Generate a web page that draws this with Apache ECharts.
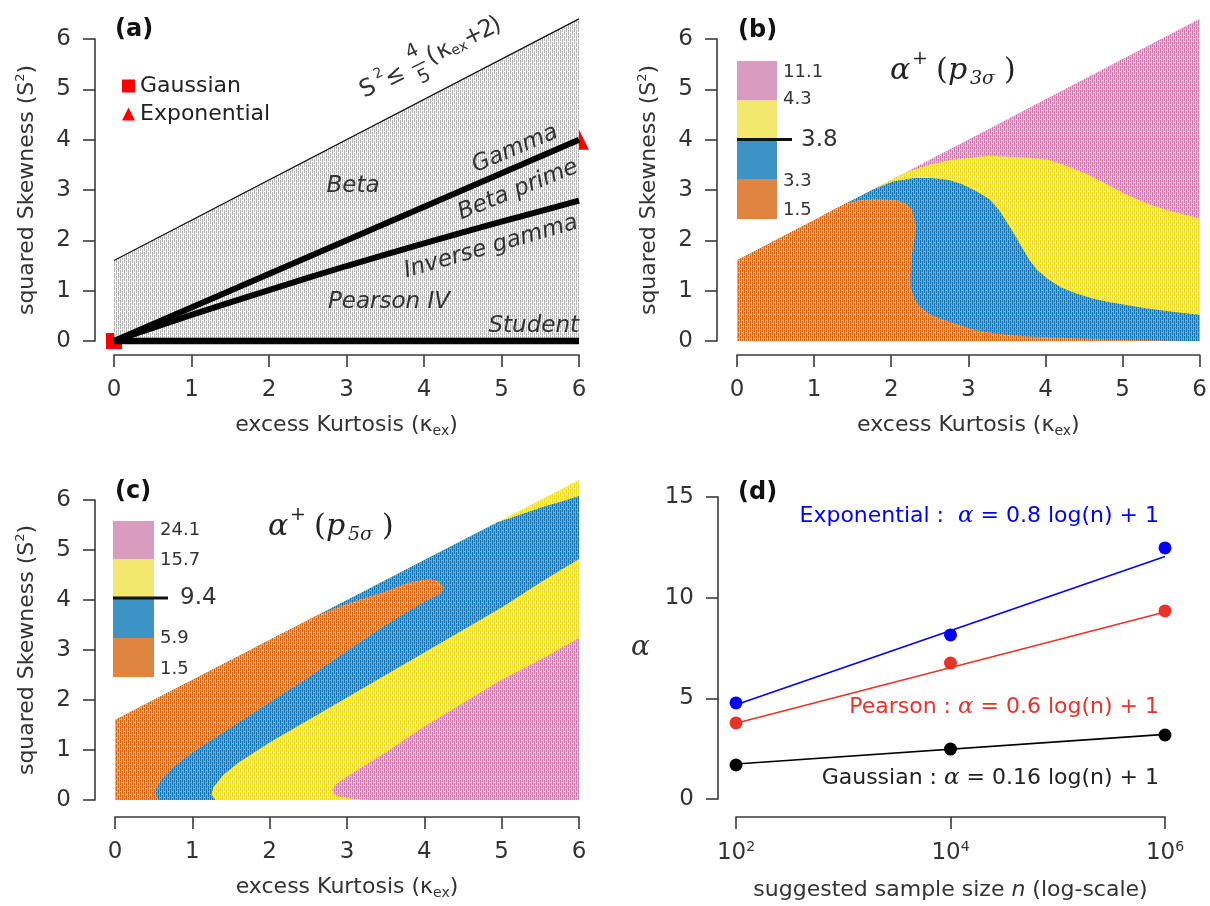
<!DOCTYPE html>
<html>
<head>
<meta charset="utf-8">
<title>Skewness-kurtosis plane</title>
<script src="https://cdn.jsdelivr.net/npm/echarts@6/dist/echarts.min.js"></script>
<style>
  html, body { margin: 0; padding: 0; background: #fff; }
  #chart { width: 1210px; height: 906px; }
</style>
</head>
<body>
<div id="chart"></div>
<script>
// ---- data ----
// (a) Pearson plane
const boundLine = [[0, 1.6], [6, 6.4]];
const gammaLine = [[0, 0], [6, 4]];
const invGammaLine = [[0, 0], [1, 0.52], [2, 1.01], [3, 1.49], [4, 1.94], [5, 2.37], [6, 2.79]];
const studentLine = [[0, 0], [6, 0]];
const gaussianPt = [[0, 0]];
const exponentialPt = [[6, 4]];

// (b) alpha+(p3sigma) regions (outline points, kurtosis / squared skewness)
const domain = [[0, 0], [0, 1.6], [6, 6.4], [6, 0]];
const yellowB = [[0, 0], [0, 1.6], [2.2, 3.36], [2.5, 3.5], [2.78, 3.6], [3.28, 3.68], [3.79, 3.64], [4.04, 3.6],
  [4.29, 3.47], [4.55, 3.31], [4.8, 3.11], [5.05, 2.91], [5.3, 2.74], [5.56, 2.61], [5.81, 2.51], [6, 2.44], [6, 0]];
const blueB = [[0, 0], [0, 1.6], [1.75, 3.0], [2.02, 3.17], [2.3, 3.24], [2.53, 3.24], [2.75, 3.2], [2.93, 3.11],
  [3.1, 2.98], [3.28, 2.81], [3.4, 2.6], [3.48, 2.41], [3.64, 2.01], [3.79, 1.61], [3.9, 1.4], [4.04, 1.22],
  [4.2, 1.07], [4.39, 0.95], [4.6, 0.85], [4.8, 0.78], [5.3, 0.65], [5.7, 0.57], [6, 0.52], [6, 0]];
const orangeB = [[0, 0], [0, 1.6], [1.41, 2.73], [1.6, 2.8], [1.77, 2.82], [2.07, 2.8], [2.2, 2.72], [2.27, 2.61],
  [2.32, 2.28], [2.3, 2.0], [2.27, 1.75], [2.25, 1.3], [2.25, 1.08], [2.3, 0.85], [2.37, 0.68], [2.5, 0.53],
  [2.68, 0.42], [3.08, 0.22], [3.4, 0.14], [3.79, 0.09], [4.8, 0.03], [5.8, 0]];
const legendLabelsB = ['11.1', '4.3', '3.8', '3.3', '1.5'];

// (c) alpha+(p5sigma) regions
const blueC = [[0, 0], [0, 1.6], [4.95, 5.56], [5.12, 5.64], [5.3, 5.74], [5.57, 5.88], [5.8, 5.98], [6, 6.08],
  [6, 4.82], [5.5, 4.35], [5.0, 3.85], [4.5, 3.4], [4.0, 2.95], [3.5, 2.5], [3.0, 2.05], [2.5, 1.6], [2.0, 1.15],
  [1.6, 0.75], [1.4, 0.5], [1.27, 0.25], [1.25, 0.1], [1.3, 0]];
const orangeC = [[0, 0], [0, 1.6], [2.6, 3.68], [2.99, 3.92], [3.48, 4.16], [3.8, 4.35], [4.05, 4.42], [4.18, 4.38],
  [4.25, 4.25], [4.2, 4.12], [3.98, 3.95], [3.5, 3.5], [3.0, 2.98], [2.5, 2.45], [2.0, 1.95], [1.5, 1.45],
  [1.0, 0.95], [0.75, 0.65], [0.6, 0.4], [0.52, 0.18], [0.56, 0]];
const pinkC = [[3.29, 0], [6, 0], [6, 3.24], [5.47, 2.78], [4.97, 2.38], [4.48, 1.92], [3.98, 1.45], [3.48, 0.93],
  [2.99, 0.46], [2.85, 0.3], [2.81, 0.2], [2.84, 0.1], [2.95, 0.05], [3.1, 0.02]];
const legendLabelsC = ['24.1', '15.7', '9.4', '5.9', '1.5'];

// (d) suggested alpha vs sample size
const sampleSize = [1e2, 1e4, 1e6];
const expAlpha = [4.77, 8.15, 12.47];
const pearsonAlpha = [3.78, 6.75, 9.34];
const gaussAlpha = [1.69, 2.48, 3.18];
const fitEnds = [1e2, 1e6];
const expFit = [4.68, 12.05];
const pearsonFit = [3.76, 9.29];
const gaussFit = [1.74, 3.21];

// ---- styles ----
const FONT = 'DejaVu Sans';
const SERIF = 'DejaVu Serif';
const TXT = '#333';
const AX = '#3a3a3a';
const DEG = Math.PI / 180;

// dotted texture like the original raster fill
function hatch(dark, light) {
  const c = document.createElement('canvas');
  c.width = 4; c.height = 6;
  const g = c.getContext('2d');
  g.fillStyle = light; g.fillRect(0, 0, 4, 6);
  g.fillStyle = dark;
  g.fillRect(0, 0, 1, 5);
  g.fillRect(2, 3, 1, 3);
  g.fillRect(2, 0, 1, 2);
  return { image: c, repeat: 'repeat' };
}
const fillGray = hatch('#b4b4b4', '#f8f8f8');
const fillOrange = hatch('#d9620c', '#efae78');
const fillBlue = hatch('#1473b3', '#6aaad6');
const fillYellow = hatch('#ecdb1e', '#f7ef8c');
const fillPink = hatch('#cf78ae', '#e8bcd6');

const legendColors = ['#d99cc1', '#f2e86e', '#3d93c5', '#e08540'];

function lineData(xs, ys) { return xs.map((x, i) => [x, ys[i]]); }

function regionSeries(grid, pts, fill) {
  return {
    type: 'custom', xAxisIndex: grid, yAxisIndex: grid, silent: true,
    data: pts,
    renderItem: function (params, api) {
      if (params.dataIndex !== 0) return null;
      return {
        type: 'polygon',
        shape: { points: pts.map(p => api.coord(p)) },
        style: { fill: fill }
      };
    }
  };
}

const axisLine = { show: true, onZero: false, lineStyle: { color: AX, width: 1.6 } };
const axisTick = { show: true, length: 12, lineStyle: { color: AX, width: 1.6 } };
const tickFont = { fontSize: 23, fontFamily: FONT, color: TXT };

function kAxis(grid, offset) {
  return {
    type: 'value', gridIndex: grid, min: 0, max: 6, interval: 1, offset: offset,
    axisLine, axisTick, splitLine: { show: false },
    axisLabel: Object.assign({ margin: 24 }, tickFont),
    name: 'excess Kurtosis ({k|κ}{sub|ex})', nameLocation: 'middle', nameGap: 57, nameMoveOverlap: false,
    nameTextStyle: {
      fontSize: 22, fontFamily: FONT, color: TXT, lineHeight: 26,
      rich: {
        k: { fontSize: 22, fontFamily: FONT, color: TXT },
        sub: { fontSize: 14, fontFamily: FONT, color: TXT, verticalAlign: 'bottom', lineHeight: 14 }
      }
    }
  };
}
function sAxis(grid, offset) {
  return {
    type: 'value', gridIndex: grid, min: 0, max: 6, interval: 1, offset: offset,
    axisLine, axisTick, splitLine: { show: false },
    axisLabel: Object.assign({ margin: 24 }, tickFont),
    name: 'squared Skewness (S{sup|2})', nameLocation: 'middle', nameGap: 55, nameRotate: 90, nameMoveOverlap: false,
    nameTextStyle: {
      fontSize: 22, fontFamily: FONT, color: TXT, lineHeight: 26,
      rich: { sup: { fontSize: 13, fontFamily: FONT, color: TXT, verticalAlign: 'top', lineHeight: 13 } }
    }
  };
}

// ---- decorations (drawn above the series) ----
const graphics = [];
function label(x, y, text, style, extra) {
  graphics.push(Object.assign({
    type: 'text', x: x, y: y, z: 100, silent: true,
    style: Object.assign({ text: text, fontFamily: FONT, fontSize: 22, fill: TXT, align: 'left', verticalAlign: 'middle' }, style)
  }, extra || {}));
}
// panel letters
label(115, 30, '(a)', { fontWeight: 'bold', fontSize: 24, fill: '#111' });
label(738, 31, '(b)', { fontWeight: 'bold', fontSize: 24, fill: '#111' });
label(115, 492, '(c)', { fontWeight: 'bold', fontSize: 24, fill: '#111' });
label(738, 493, '(d)', { fontWeight: 'bold', fontSize: 24, fill: '#111' });

// (a) region names
const it = { fontStyle: 'italic', fontSize: 23, align: 'center', fill: '#333' };
label(353, 186, 'Beta', it);
label(515, 149, 'Gamma', it, { rotation: 23 * DEG });
label(518, 190, 'Beta prime', it, { rotation: 22 * DEG });
label(491, 247, 'Inverse gamma', it, { rotation: 16 * DEG });
label(389, 302, 'Pearson IV', it);
label(579, 326, 'Student', Object.assign({}, it, { align: 'right' }));

// (a) bound formula, rotated along the line
graphics.push({
  type: 'group', x: 368, y: 89, rotation: 26 * DEG, silent: true, z: 100,
  children: [
    ['S', 0, 0, 24], ['2', 16, -9, 14], ['≤', 30, 1, 23], ['4', 56, -14, 19], ['5', 56, 14, 19],
    ['(', 72, -1, 24], ['κ', 85, -1, 23], ['ex', 100, 4, 14], ['+', 118, -1, 23], ['2', 133, -1, 24], [')', 143, -1, 24]
  ].map(d => ({
    type: 'text', x: d[1], y: d[2], z: 100,
    style: { text: d[0], fontFamily: FONT, fontSize: d[3], fill: TXT, align: 'center', verticalAlign: 'middle' }
  })).concat([{ type: 'line', z: 100, shape: { x1: 49, y1: 0, x2: 63, y2: 0 }, style: { stroke: TXT, lineWidth: 1.4 } }])
});

// alpha+(p_k sigma) titles
function alphaTitle(x0, y0, digit) {
  const t = (s, x, y, fs, italic) => ({
    type: 'text', x: x, y: y, z: 100,
    style: { text: s, fontFamily: SERIF, fontSize: fs, fontStyle: italic ? 'italic' : 'normal', fill: '#222', align: 'left', verticalAlign: 'middle' }
  });
  graphics.push({
    type: 'group', x: x0, y: y0, silent: true, z: 100,
    children: [t('α', 0, 0, 30, true), t('+', 22, -12, 19, false), t('(', 46, 0, 30, false),
      t('p', 58, 0, 30, true), t(digit + 'σ', 80, 8, 19, true), t(')', 114, 0, 30, false)]
  });
}
alphaTitle(890, 71, '3');
alphaTitle(268, 527, '5');

// colour keys of (b) and (c)
function colourKey(x, width, bounds, lineX2, labels, lx, ly, bigX) {
  for (let i = 0; i < 4; i++) {
    graphics.push({ type: 'rect', silent: true, z: 100, shape: { x: x, y: bounds[i], width: width, height: bounds[i + 1] - bounds[i] }, style: { fill: legendColors[i] } });
  }
  graphics.push({ type: 'line', silent: true, z: 101, shape: { x1: x, y1: bounds[2], x2: lineX2, y2: bounds[2] }, style: { stroke: '#111', lineWidth: 3 } });
  labels.forEach((s, i) => {
    if (i === 2) label(bigX, ly[i], s, { fontSize: 23 });
    else label(lx, ly[i], s, { fontSize: 18 });
  });
}
colourKey(737, 40, [61, 100.5, 139.5, 179, 219], 792, legendLabelsB, 783, [72, 99, 140, 181, 210], 801);
colourKey(113, 41, [521, 559, 598, 638, 677], 168, legendLabelsC, 160, [530, 560, 598, 638, 669], 180);

// (d) fit formulas
function formula(y, text, color) {
  label(1159, y, text, {
    align: 'right', fill: color, fontSize: 22,
    rich: { a: { fontFamily: SERIF, fontStyle: 'italic', fontSize: 23, fill: color } }
  });
}
formula(516, 'Exponential :  {a|α} = 0.8 log(n) + 1', '#0000ff');
formula(707, 'Pearson : {a|α} = 0.6 log(n) + 1', '#e8332a');
formula(778, 'Gaussian : {a|α} = 0.16 log(n) + 1', '#222');

// ---- chart ----
const chart = echarts.init(document.getElementById('chart'), null, { renderer: 'canvas' });

const option = {
  animation: false,
  backgroundColor: '#fff',
  grid: [
    { left: 114, top: 39, width: 465, height: 302 },
    { left: 737, top: 39, width: 464, height: 302 },
    { left: 115, top: 500, width: 464, height: 300 },
    { left: 736, top: 497, width: 429, height: 302 }
  ],
  legend: {
    data: ['Gaussian', 'Exponential'], orient: 'vertical', left: 117, top: 70,
    itemWidth: 13, itemHeight: 13, itemGap: 6, selectedMode: false,
    textStyle: { fontSize: 22, fontFamily: FONT, color: '#222', lineHeight: 22 }
  },
  xAxis: [
    kAxis(0, 14), kAxis(1, 14), kAxis(2, 17),
    {
      type: 'log', logBase: 100, gridIndex: 3, min: 100, max: 1e6, offset: 18,
      axisLine, axisTick, splitLine: { show: false }, minorTick: { show: false },
      axisLabel: Object.assign({
        margin: 23, lineHeight: 26,
        formatter: v => '10{s|' + Math.round(Math.log10(v)) + '}',
        rich: { s: { fontSize: 14, fontFamily: FONT, color: TXT, verticalAlign: 'top', lineHeight: 14 } }
      }, tickFont),
      name: 'suggested sample size {i|n} (log-scale)', nameLocation: 'middle', nameGap: 60, nameMoveOverlap: false,
      nameTextStyle: {
        fontSize: 22, fontFamily: FONT, color: TXT, lineHeight: 26,
        rich: { i: { fontSize: 22, fontFamily: FONT, fontStyle: 'italic', color: TXT } }
      }
    }
  ],
  yAxis: [
    sAxis(0, 19), sAxis(1, 20), sAxis(2, 20),
    {
      type: 'value', gridIndex: 3, min: 0, max: 15, interval: 5, offset: 18,
      axisLine, axisTick, splitLine: { show: false },
      axisLabel: Object.assign({ margin: 24 }, tickFont),
      name: 'α', nameLocation: 'middle', nameGap: 68, nameRotate: 0, nameMoveOverlap: false,
      nameTextStyle: { fontSize: 28, fontFamily: SERIF, fontStyle: 'italic', color: TXT }
    }
  ],
  graphic: graphics,
  series: [
    // (a)
    {
      type: 'line', xAxisIndex: 0, yAxisIndex: 0, data: boundLine, symbol: 'none', clip: false,
      lineStyle: { color: '#111', width: 1.2 }, areaStyle: { color: fillGray, opacity: 1 }, silent: true
    },
    { type: 'line', xAxisIndex: 0, yAxisIndex: 0, data: gammaLine, symbol: 'none', clip: false, lineStyle: { color: '#000', width: 6 }, silent: true },
    { type: 'line', xAxisIndex: 0, yAxisIndex: 0, data: invGammaLine, symbol: 'none', smooth: 0.3, clip: false, lineStyle: { color: '#000', width: 6 }, silent: true },
    { type: 'line', xAxisIndex: 0, yAxisIndex: 0, data: studentLine, symbol: 'none', clip: false, lineStyle: { color: '#000', width: 6.5 }, silent: true },
    { name: 'Gaussian', type: 'scatter', xAxisIndex: 0, yAxisIndex: 0, data: gaussianPt, symbol: 'rect', symbolSize: 16, itemStyle: { color: '#ff0000', opacity: 1 } },
    { name: 'Exponential', type: 'scatter', xAxisIndex: 0, yAxisIndex: 0, data: exponentialPt, symbol: 'triangle', symbolSize: 20, itemStyle: { color: '#ff0000', opacity: 1 } },
    // (b)
    regionSeries(1, domain, fillPink),
    regionSeries(1, yellowB, fillYellow),
    regionSeries(1, blueB, fillBlue),
    regionSeries(1, orangeB, fillOrange),
    // (c)
    regionSeries(2, domain, fillYellow),
    regionSeries(2, blueC, fillBlue),
    regionSeries(2, orangeC, fillOrange),
    regionSeries(2, pinkC, fillPink),
    // (d)
    { type: 'line', xAxisIndex: 3, yAxisIndex: 3, data: lineData(fitEnds, expFit), symbol: 'none', lineStyle: { color: '#0000ff', width: 1.6 } },
    { type: 'line', xAxisIndex: 3, yAxisIndex: 3, data: lineData(fitEnds, pearsonFit), symbol: 'none', lineStyle: { color: '#e8332a', width: 1.6 } },
    { type: 'line', xAxisIndex: 3, yAxisIndex: 3, data: lineData(fitEnds, gaussFit), symbol: 'none', lineStyle: { color: '#000', width: 1.6 } },
    { type: 'scatter', xAxisIndex: 3, yAxisIndex: 3, data: lineData(sampleSize, expAlpha), symbolSize: 13, itemStyle: { color: '#0000ff', opacity: 1 } },
    { type: 'scatter', xAxisIndex: 3, yAxisIndex: 3, data: lineData(sampleSize, pearsonAlpha), symbolSize: 13, itemStyle: { color: '#e8332a', opacity: 1 } },
    { type: 'scatter', xAxisIndex: 3, yAxisIndex: 3, data: lineData(sampleSize, gaussAlpha), symbolSize: 13, itemStyle: { color: '#000', opacity: 1 } }
  ]
};

chart.setOption(option);
window.addEventListener('resize', () => chart.resize());
</script>
</body>
</html>
